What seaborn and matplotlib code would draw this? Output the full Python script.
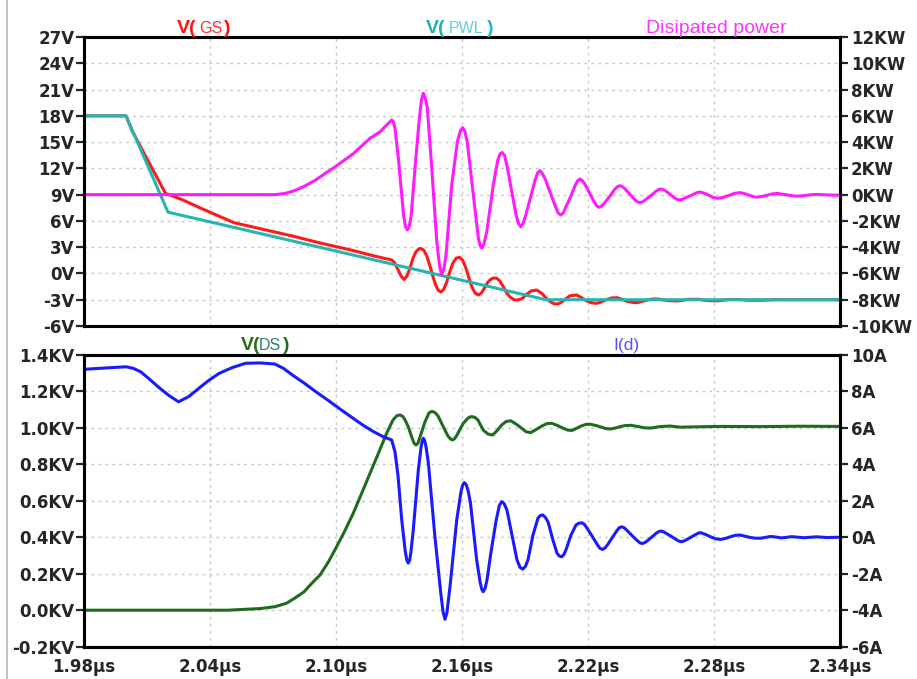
import numpy as np
import pandas as pd
import matplotlib
matplotlib.use("Agg")
import matplotlib.pyplot as plt
from matplotlib.lines import Line2D
import seaborn as sns

# ---------------- data (time in µs) ----------------
pwl_t = [1.98, 2.000, 2.020, 2.200, 2.34]
pwl_v = [18.0, 18.0, 7.0, -3.0, -3.0]

vgs_t = [1.98, 2.000, 2.0027, 2.0095, 2.0188, 2.0263, 2.0375, 2.0514, 2.0652, 2.0792,
         2.0931, 2.1071, 2.1181, 2.1265, 2.1280, 2.1295, 2.1310, 2.1324, 2.1338, 2.1352,
         2.1366, 2.1380, 2.1393, 2.1405, 2.1418, 2.1433, 2.1448, 2.1462, 2.1476, 2.1488,
         2.1499, 2.1512, 2.1527, 2.1542, 2.1557, 2.1572, 2.1587, 2.1603, 2.1619, 2.1634,
         2.1648, 2.1663, 2.1678, 2.1692, 2.1705, 2.1720, 2.1735, 2.1750, 2.1765, 2.1780,
         2.1795, 2.1812, 2.1829, 2.1848, 2.1868, 2.1887, 2.1905, 2.1929, 2.1956, 2.1981,
         2.2000, 2.2019, 2.2037, 2.2054, 2.2070, 2.2086, 2.2114, 2.2146, 2.2168, 2.2191,
         2.2216, 2.2241, 2.2264, 2.2286, 2.2312, 2.2338, 2.2362, 2.2386, 2.2410, 2.2435,
         2.2460, 2.2486, 2.2510, 2.2533, 2.2580, 2.2629, 2.2676, 2.2724, 2.2771, 2.2819,
         2.2866, 2.2914, 2.2966, 2.3019, 2.3090, 2.3162, 2.34]
vgs_v = [18.0, 18.0, 16.4, 13.3, 9.15, 8.47, 7.25, 5.8, 5.04, 4.28,
         3.44, 2.68, 2.0, 1.54, 1.2, 0.45, -0.3, -0.69, -0.3, 0.6,
         1.7, 2.45, 2.78, 2.85, 2.65, 1.95, 0.8, -0.4, -1.4, -1.95,
         -2.12, -1.85, -1.0, 0.2, 1.2, 1.72, 1.85, 1.5, 0.6, -0.6,
         -1.6, -2.25, -2.46, -2.25, -1.75, -1.1, -0.7, -0.52, -0.55, -0.85,
         -1.45, -2.2, -2.7, -3.0, -3.03, -2.85, -2.45, -2.0, -1.89, -2.3,
         -2.8, -3.2, -3.45, -3.49, -3.35, -3.05, -2.55, -2.46, -2.75, -3.1,
         -3.35, -3.41, -3.25, -3.0, -2.8, -2.77, -2.95, -3.18, -3.3, -3.34,
         -3.18, -3.0, -2.92, -2.92, -3.1, -3.14, -2.96, -2.95, -3.1, -3.12,
         -2.98, -2.97, -3.05, -3.06, -2.99, -3.0, -3.0]

pwr_t = [1.98, 2.0710, 2.0757, 2.0805, 2.0852, 2.0900, 2.0948, 2.0995, 2.1081, 2.1162,
         2.1210, 2.1265, 2.1273, 2.1281, 2.1297, 2.1313, 2.1322, 2.1331, 2.1340, 2.1349,
         2.1358, 2.1376, 2.1397, 2.1407, 2.1416, 2.1425, 2.1435, 2.1456, 2.1480, 2.1493,
         2.1503, 2.1513, 2.1524, 2.1551, 2.1578, 2.1592, 2.1603, 2.1614, 2.1625, 2.1654,
         2.1678, 2.1686, 2.1694, 2.1704, 2.1718, 2.1749, 2.1770, 2.1781, 2.1791, 2.1802,
         2.1813, 2.1835, 2.1857, 2.1869, 2.1880, 2.1891, 2.1903, 2.1925, 2.1948, 2.1960,
         2.1971, 2.1983, 2.1996, 2.2020, 2.2045, 2.2058, 2.2070, 2.2082, 2.2093, 2.2116,
         2.2139, 2.2150, 2.2162, 2.2174, 2.2185, 2.2208, 2.2231, 2.2243, 2.2254, 2.2266,
         2.2278, 2.2303, 2.2327, 2.2340, 2.2352, 2.2364, 2.2376, 2.2400, 2.2424, 2.2436,
         2.2448, 2.2460, 2.2473, 2.2498, 2.2523, 2.2536, 2.2548, 2.2559, 2.2570, 2.2592,
         2.2614, 2.2625, 2.2636, 2.2648, 2.2660, 2.2685, 2.2709, 2.2721, 2.2733, 2.2755,
         2.2776, 2.2798, 2.2819, 2.2845, 2.2871, 2.2898, 2.2924, 2.2945, 2.2965, 2.2985,
         2.3005, 2.3028, 2.3052, 2.3076, 2.3100, 2.3124, 2.3148, 2.3172, 2.3195, 2.3219,
         2.3243, 2.3266, 2.3290, 2.3318, 2.3345, 2.34]
pwr_kw = [0.0, 0.0, 0.09, 0.32, 0.66, 1.08, 1.61, 2.11, 3.10, 4.29,
          4.79, 5.68, 5.55, 5.05, 2.77, 0.0, -1.6, -2.45, -2.69, -2.4,
          -1.6, 2.01, 5.81, 7.2, 7.72, 7.35, 6.6, 2.01, -3.58, -5.4,
          -6.11, -5.7, -4.6, 0.74, 4.03, 4.85, 5.10, 4.8, 4.0, 0.0,
          -3.32, -3.85, -4.08, -3.8, -2.82, 0.74, 2.6, 3.1, 3.21, 3.0,
          2.3, 0.4, -1.5, -2.2, -2.44, -2.2, -1.6, -0.3, 1.1, 1.65,
          1.83, 1.6, 1.2, 0.15, -0.9, -1.4, -1.55, -1.4, -1.0, -0.2,
          0.7, 1.05, 1.19, 1.05, 0.8, 0.1, -0.6, -0.88, -0.96, -0.86,
          -0.65, -0.15, 0.4, 0.6, 0.68, 0.6, 0.45, 0.03, -0.4, -0.55,
          -0.61, -0.55, -0.4, -0.1, 0.25, 0.38, 0.43, 0.38, 0.28, 0.01,
          -0.27, -0.36, -0.40, -0.36, -0.27, -0.1, 0.08, 0.17, 0.20, 0.1,
          -0.05, -0.22, -0.28, -0.2, -0.06, 0.1, 0.15, 0.08, -0.03, -0.15,
          -0.20, -0.14, -0.05, 0.05, 0.09, 0.04, -0.02, -0.09, -0.12, -0.09,
          -0.04, 0.0, 0.02, 0.0, -0.03, -0.04]

vds_t = [1.98, 2.0486, 2.0638, 2.0709, 2.0764, 2.0805, 2.0848, 2.0886, 2.0924, 2.0964,
         2.1003, 2.1043, 2.1082, 2.1122, 2.1162, 2.1202, 2.1241, 2.1271, 2.1290, 2.1305,
         2.1318, 2.1330, 2.1344, 2.1362, 2.1372, 2.1381, 2.1390, 2.1400, 2.1424, 2.1443,
         2.1453, 2.1463, 2.1474, 2.1486, 2.1511, 2.1533, 2.1545, 2.1556, 2.1566, 2.1576,
         2.1606, 2.1629, 2.1640, 2.1651, 2.1663, 2.1676, 2.1701, 2.1724, 2.1746, 2.1768,
         2.1789, 2.1810, 2.1832, 2.1858, 2.1884, 2.1905, 2.1927, 2.1953, 2.1980, 2.2003,
         2.2027, 2.2055, 2.2082, 2.2103, 2.2124, 2.2146, 2.2167, 2.2190, 2.2212, 2.2237,
         2.2262, 2.2286, 2.2310, 2.2333, 2.2357, 2.2380, 2.2402, 2.2425, 2.2448, 2.2472,
         2.2497, 2.2544, 2.2591, 2.2640, 2.2686, 2.2829, 2.3019, 2.3210, 2.34]
vds_kv = [0.0, 0.0, 0.009, 0.019, 0.038, 0.067, 0.101, 0.149, 0.193, 0.265,
          0.348, 0.437, 0.531, 0.640, 0.750, 0.860, 0.969, 1.042, 1.066, 1.070,
          1.062, 1.040, 1.005, 0.944, 0.915, 0.905, 0.915, 0.949, 1.033, 1.081,
          1.088, 1.088, 1.080, 1.064, 1.005, 0.955, 0.938, 0.933, 0.942, 0.960,
          1.024, 1.053, 1.060, 1.060, 1.055, 1.042, 0.987, 0.965, 0.960, 0.985,
          1.015, 1.034, 1.038, 1.020, 0.997, 0.978, 0.973, 0.990, 1.009, 1.022,
          1.024, 1.012, 0.997, 0.987, 0.985, 0.997, 1.009, 1.018, 1.019, 1.012,
          1.004, 0.995, 0.993, 0.999, 1.007, 1.012, 1.013, 1.009, 1.004, 0.999,
          0.998, 1.006, 1.009, 1.003, 1.004, 1.007, 1.006, 1.008, 1.007]

id_t = [1.98, 1.990, 2.0000, 2.0035, 2.0069, 2.0110, 2.0152, 2.0200, 2.0250, 2.0298,
        2.0347, 2.0395, 2.0444, 2.0507, 2.0570, 2.0640, 2.0709, 2.0750, 2.0792, 2.0848,
        2.0904, 2.0960, 2.1015, 2.1071, 2.1127, 2.1176, 2.1224, 2.1265, 2.1281, 2.1295,
        2.1313, 2.1329, 2.1337, 2.1344, 2.1351, 2.1357, 2.1368, 2.1392, 2.1405, 2.1411,
        2.1416, 2.1422, 2.1429, 2.1440, 2.1471, 2.1499, 2.1510, 2.1519, 2.1528, 2.1543,
        2.1575, 2.1595, 2.1603, 2.1611, 2.1620, 2.1629, 2.1640, 2.1670, 2.1686, 2.1694,
        2.1701, 2.1710, 2.1719, 2.1737, 2.1762, 2.1778, 2.1789, 2.1800, 2.1814, 2.1838,
        2.1862, 2.1876, 2.1889, 2.1902, 2.1914, 2.1938, 2.1962, 2.1973, 2.1984, 2.1996,
        2.2010, 2.2033, 2.2052, 2.2063, 2.2075, 2.2085, 2.2095, 2.2119, 2.2143, 2.2157,
        2.2171, 2.2183, 2.2195, 2.2220, 2.2244, 2.2256, 2.2268, 2.2280, 2.2291, 2.2314,
        2.2337, 2.2349, 2.2360, 2.2372, 2.2385, 2.2409, 2.2434, 2.2446, 2.2458, 2.2470,
        2.2480, 2.2503, 2.2525, 2.2536, 2.2547, 2.2559, 2.2571, 2.2596, 2.2620, 2.2632,
        2.2644, 2.2656, 2.2667, 2.2690, 2.2713, 2.2725, 2.2736, 2.2760, 2.2784, 2.2808,
        2.2831, 2.2854, 2.2877, 2.2900, 2.2923, 2.2946, 2.2970, 2.2995, 2.3020, 2.3045,
        2.3070, 2.3095, 2.3120, 2.3145, 2.3170, 2.3200, 2.3230, 2.3260, 2.3290, 2.3340,
        2.34]
id_a = [9.2, 9.27, 9.34, 9.25, 9.07, 8.68, 8.25, 7.8, 7.42, 7.7,
        8.16, 8.6, 8.98, 9.3, 9.53, 9.55, 9.49, 9.25, 8.89, 8.45,
        7.97, 7.52, 7.06, 6.6, 6.15, 5.8, 5.51, 5.33, 4.67, 3.41,
        0.95, -0.7, -1.25, -1.42, -1.25, -0.8, 0.4, 3.68, 4.94, 5.3,
        5.42, 5.3, 4.94, 4.05, 0.03, -3.07, -4.1, -4.5, -4.15, -2.7,
        0.95, 2.48, 2.85, 2.99, 2.88, 2.55, 1.9, -1.25, -2.45, -2.85,
        -2.99, -2.8, -2.35, -0.9, 0.89, 1.75, 1.95, 1.85, 1.49, 0.12,
        -1.25, -1.65, -1.75, -1.6, -1.25, 0.12, 1.05, 1.19, 1.22, 1.1,
        0.83, -0.15, -0.87, -1.03, -1.07, -0.95, -0.70, 0.12, 0.67, 0.77,
        0.79, 0.7, 0.5, 0.05, -0.4, -0.6, -0.67, -0.6, -0.45, -0.05,
        0.35, 0.52, 0.57, 0.52, 0.38, 0.1, -0.18, -0.3, -0.35, -0.3,
        -0.22, 0.0, 0.22, 0.3, 0.34, 0.3, 0.22, 0.05, -0.13, -0.21,
        -0.25, -0.21, -0.15, 0.0, 0.15, 0.22, 0.25, 0.15, 0.02, -0.09,
        -0.12, -0.07, 0.02, 0.1, 0.12, 0.06, -0.01, -0.05, -0.06, -0.01,
        0.04, 0.01, -0.04, -0.01, 0.03, 0.0, -0.03, 0.0, 0.02, -0.02,
        0.0]

x_ticks = [1.98, 2.04, 2.10, 2.16, 2.22, 2.28, 2.34]
x_labels = ["1.98µs", "2.04µs", "2.10µs", "2.16µs", "2.22µs", "2.28µs", "2.34µs"]
v_ticks = [-6, -3, 0, 3, 6, 9, 12, 15, 18, 21, 24, 27]
v_labels = ["-6V", "-3V", "0V", "3V", "6V", "9V", "12V", "15V", "18V", "21V", "24V", "27V"]
kw_ticks = [-10, -8, -6, -4, -2, 0, 2, 4, 6, 8, 10, 12]
kw_labels = ["-10KW", "-8KW", "-6KW", "-4KW", "-2KW", "0KW", "2KW", "4KW", "6KW", "8KW", "10KW", "12KW"]
kv_ticks = [-0.2, 0.0, 0.2, 0.4, 0.6, 0.8, 1.0, 1.2, 1.4]
kv_labels = ["-0.2KV", "0.0KV", "0.2KV", "0.4KV", "0.6KV", "0.8KV", "1.0KV", "1.2KV", "1.4KV"]
a_ticks = [-6, -4, -2, 0, 2, 4, 6, 8, 10]
a_labels = ["-6A", "-4A", "-2A", "0A", "2A", "4A", "6A", "8A", "10A"]

# ---------------- styling ----------------
sns.set_style("white")
plt.rcParams["font.family"] = ["DejaVu Sans"]
plt.rcParams["lines.solid_joinstyle"] = "round"
plt.rcParams["lines.solid_capstyle"] = "round"

W, H = 917, 679
fig = plt.figure(figsize=(W / 100, H / 100), dpi=100)
fig.patch.set_facecolor("white")

ax1 = fig.add_axes([84 / W, 1 - 326 / H, 756 / W, 289 / H])
ax1r = ax1.twinx()
ax2 = fig.add_axes([84 / W, 1 - 646.7 / H, 756 / W, 292 / H])
ax2r = ax2.twinx()

RED = "#ff1a1a"
CYAN = "#26b5b0"
MAG = "#ff1aff"
GREEN = "#1f6b1f"
BLUE = "#1a1aff"
LW = 2.2

sns.lineplot(x=vgs_t, y=vgs_v, ax=ax1, color=RED, linewidth=LW, sort=False, estimator=None)
sns.lineplot(x=pwl_t, y=pwl_v, ax=ax1, color=CYAN, linewidth=LW, sort=False, estimator=None)
sns.lineplot(x=pwr_t, y=pwr_kw, ax=ax1r, color=MAG, linewidth=LW, sort=False, estimator=None)
sns.lineplot(x=vds_t, y=vds_kv, ax=ax2, color=GREEN, linewidth=LW, sort=False, estimator=None)
sns.lineplot(x=id_t, y=id_a, ax=ax2r, color=BLUE, linewidth=LW, sort=False, estimator=None)

grid_kw = dict(color="#c8c8c8", linestyle=(0, (2, 3)), linewidth=1.0)

def style_pair(ax, axr, lt, ll, rt, rl, show_x):
    for a in (ax, axr):
        a.set_xlim(1.98, 2.34)
        a.set_xlabel("")
        a.set_ylabel("")
        for s in a.spines.values():
            s.set_linewidth(2.2)
            s.set_color("black")
    ax.set_ylim(lt[0], lt[-1])
    axr.set_ylim(rt[0], rt[-1])
    ax.set_yticks(lt)
    ax.set_yticklabels(ll, fontweight="bold", fontsize=12)
    axr.set_yticks(rt)
    axr.set_yticklabels(rl, fontweight="bold", fontsize=12)
    ax.set_xticks(x_ticks)
    if show_x:
        ax.set_xticklabels(x_labels, fontweight="bold", fontsize=12)
        ax.tick_params(axis="x", direction="out", length=6, width=1.6, pad=2)
    else:
        ax.set_xticklabels([])
        ax.tick_params(axis="x", length=0)
    ax.tick_params(axis="y", direction="out", length=6, width=1.6, pad=1)
    axr.tick_params(axis="y", direction="out", length=6, width=1.6, pad=2)
    axr.tick_params(axis="x", length=0, labelbottom=False)
    ax.grid(True, **grid_kw)
    axr.grid(False)
    ax.set_axisbelow(True)

style_pair(ax1, ax1r, v_ticks, v_labels, kw_ticks, kw_labels, False)
style_pair(ax2, ax2r, kv_ticks, kv_labels, a_ticks, a_labels, True)

# ---------------- trace titles ----------------
SANS = ["Liberation Sans", "DejaVu Sans"]

def ft(xp, yp, s, color, size, weight="normal", fam=SANS):
    fig.text(xp / W, 1 - yp / H, s, color=color, fontsize=size, fontweight=weight,
             family=fam, ha="left", va="baseline")

ft(177, 33, "V(", "#ff1010", 14, "bold")
ft(199, 33, "GS", "#ff3030", 11.5)
ft(224, 33, ")", "#ff1010", 14, "bold")

ft(426, 33, "V(", "#1fb0b0", 14, "bold")
ft(449, 33, "PWL", "#5ccfe0", 11.5)
ft(487, 33, ")", "#1fb8c8", 14, "bold")

ft(646, 33, "Disipated power", "#ff33ff", 14)

ft(241, 350, "V(", "#2b6e1a", 14, "bold")
ft(259, 350, "DS", "#2a7a70", 11.5)
ft(283, 350, ")", "#2b6e1a", 14, "bold")

ft(613, 350, "I(d)", "#5a4cff", 12.5)

fig.add_artist(Line2D([7 / W, 7 / W], [0, 1], color="#b8b8b8", linewidth=1.2))

fig.savefig("out.png", dpi=100, facecolor="white")
